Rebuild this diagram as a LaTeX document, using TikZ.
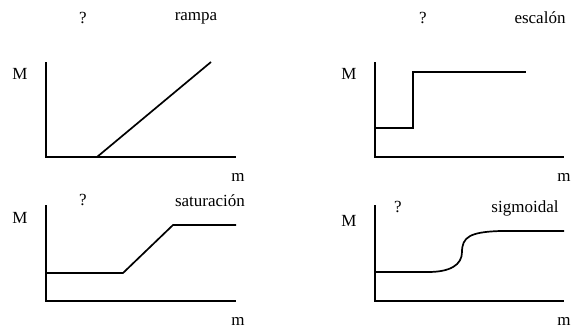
\documentclass[tikz,border=0pt]{standalone}
\usepackage{fontspec}
\setmainfont{Liberation Serif}
\begin{document}
\begin{tikzpicture}[x=1pt,y=-1pt,
  lbl/.style={inner sep=0pt,font=\fontsize{17}{19}\selectfont},
  axis/.style={line width=1.8pt},
  curve/.style={line width=1.7pt}]
\useasboundingbox (0,0) rectangle (577,330);
% panel 1: rampa
\node[lbl] (q1) at (83,18) {?};
\node[lbl] (t1) at (196,18) {rampa};
\node[lbl] (M1) at (20,74) {M};
\node[lbl] (m1) at (238,177) {m};
\draw[axis] (46,62) -- (46,157) -- (236,157);
\draw[curve] (97,157) -- (211,62);
% panel 2: escalon
\node[lbl] (q2) at (423,18) {?};
\node[lbl] (t2) at (540,18) {escalón};
\node[lbl] (M2) at (349,74) {M};
\node[lbl] (m2) at (564,177) {m};
\draw[axis] (375,62) -- (375,157) -- (564,157);
\draw[curve] (375,128) -- (413,128) -- (413,72) -- (526,72);
% panel 3: saturacion
\node[lbl] (q3) at (83,200) {?};
\node[lbl] (t3) at (210,201) {saturación};
\node[lbl] (M3) at (20,218) {M};
\node[lbl] (m3) at (238,321) {m};
\draw[axis] (46,205) -- (46,301) -- (236,301);
\draw[curve] (46,273) -- (123,273) -- (173,225) -- (236,225);
% panel 4: sigmoidal
\node[lbl] (q4) at (398,207) {?};
\node[lbl] (t4) at (525,208) {sigmoidal};
\node[lbl] (M4) at (349,221) {M};
\node[lbl] (m4) at (564,321) {m};
\draw[axis] (375,205) -- (375,301) -- (564,301);
\draw[curve] (375,272) -- (428,272) .. controls (450,272) and (462,265) .. (462,252)
  .. controls (462,237) and (470,232) .. (500,231) -- (564,231);
\end{tikzpicture}
\end{document}
